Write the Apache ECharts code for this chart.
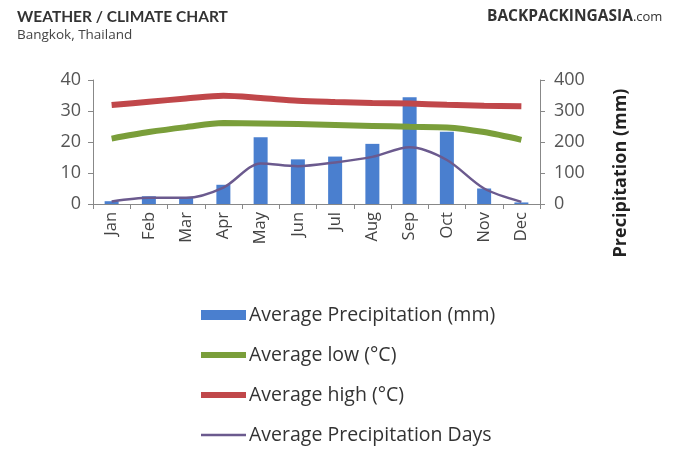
<!DOCTYPE html>
<html><head><meta charset="utf-8">
<script src="https://cdn.jsdelivr.net/npm/echarts@6/dist/echarts.min.js"></script>
<style>html,body{margin:0;padding:0;background:#fff}#c{width:690px;height:454px}</style>
</head><body><div id="c"></div>
<script>
var months = ['Jan','Feb','Mar','Apr','May','Jun','Jul','Aug','Sep','Oct','Nov','Dec'];
var precipMm = [9, 25, 22, 62, 215, 144, 153, 194, 344, 233, 50, 5];
var avgLow = [21.1, 23.2, 24.8, 26.1, 26.0, 25.8, 25.5, 25.2, 24.9, 24.7, 23.2, 20.7];
var avgHigh = [31.9, 33.0, 34.0, 34.9, 34.2, 33.3, 32.9, 32.6, 32.4, 32.0, 31.7, 31.5];
var precipDays = [0.8, 2, 2, 5.3, 13.1, 12.2, 13.4, 15.2, 18.3, 14.2, 5.0, 0.7];
var leftTicks = [0, 40, 10];
var rightTicks = [0, 400, 100];

var font = '"Open Sans", Lato, sans-serif';
var chart = echarts.init(document.getElementById('c'));
chart.setOption({
  animation: false,
  backgroundColor: '#fff',
  textStyle: {fontFamily: font},
  graphic: [
    {type: 'text', left: 17, top: 9, style: {text: 'WEATHER / CLIMATE CHART', fontFamily: 'Lato', fontWeight: 'bold', fontSize: 15.5, fill: '#333'}},
    {type: 'text', left: 17, top: 28, style: {text: 'Bangkok, Thailand', fontFamily: font, fontSize: 13.5, fill: '#444'}},
    {type: 'text', left: 487, top: 9, style: {text: '{a|BACKPACKINGASIA}{b|.com}', fontFamily: font,
      rich: {a: {fontFamily: font, fontWeight: 'bold', fontSize: 15.5, fill: '#333'}, b: {fontFamily: font, fontSize: 13, fill: '#333'}}}},
    {type: 'text', x: 621, y: 173, rotation: Math.PI/2, style: {text: 'Precipitation (mm)', fontFamily: font, fontWeight: 'bold', fontSize: 18, fill: '#222', align: 'center', verticalAlign: 'middle'}}
  ],
  grid: {left: 93, right: 150, top: 80, bottom: 250},
  legend: {
    orient: 'vertical', left: 193, top: 300, itemGap: 20, itemWidth: 45, itemHeight: 10,
    textStyle: {fontSize: 19.5, color: '#333', fontFamily: font, padding: [0,0,0,-2]},
    data: [
      {name: 'Average Precipitation (mm)', icon: 'rect'},
      {name: 'Average low (°C)', itemStyle: {opacity: 0}, lineStyle: {width: 6}},
      {name: 'Average high (°C)', itemStyle: {opacity: 0}, lineStyle: {width: 6}},
      {name: 'Average Precipitation Days', itemStyle: {opacity: 0}, lineStyle: {width: 2.5}}
    ]
  },
  xAxis: {
    type: 'category', data: months, boundaryGap: true,
    axisLine: {lineStyle: {color: '#888'}},
    axisTick: {show: true, alignWithLabel: false, length: 5, lineStyle: {color: '#888'}},
    axisLabel: {rotate: 90, fontSize: 16.5, color: '#444', margin: 8, interval: 0}
  },
  yAxis: [
    {type: 'value', min: leftTicks[0], max: leftTicks[1], interval: leftTicks[2], position: 'left',
     axisLine: {show: true, lineStyle: {color: '#888'}}, axisTick: {show: true, length: 5, lineStyle: {color: '#888'}},
     splitLine: {show: false}, axisLabel: {fontSize: 18, color: '#555', margin: 12}},
    {type: 'value', min: rightTicks[0], max: rightTicks[1], interval: rightTicks[2], position: 'right',
     axisLine: {show: true, lineStyle: {color: '#888'}}, axisTick: {show: true, length: 5, lineStyle: {color: '#888'}},
     splitLine: {show: false}, axisLabel: {fontSize: 18, color: '#555', margin: 14}}
  ],
  series: [
    {name: 'Average Precipitation (mm)', type: 'bar', yAxisIndex: 1, data: precipMm, barWidth: 14, itemStyle: {color: '#4a7fcf'}},
    {name: 'Average low (°C)', type: 'line', yAxisIndex: 0, data: avgLow, smooth: 0.3, symbol: 'none', lineStyle: {width: 6, color: '#7a9e3a'}, itemStyle: {color: '#7a9e3a'}},
    {name: 'Average high (°C)', type: 'line', yAxisIndex: 0, data: avgHigh, smooth: 0.3, symbol: 'none', lineStyle: {width: 6, color: '#c0474a'}, itemStyle: {color: '#c0474a'}},
    {name: 'Average Precipitation Days', type: 'line', yAxisIndex: 0, data: precipDays, smooth: 0.3, symbol: 'none', lineStyle: {width: 2.5, color: '#6b5a8e'}, itemStyle: {color: '#6b5a8e'}}
  ]
});
</script></body></html>
